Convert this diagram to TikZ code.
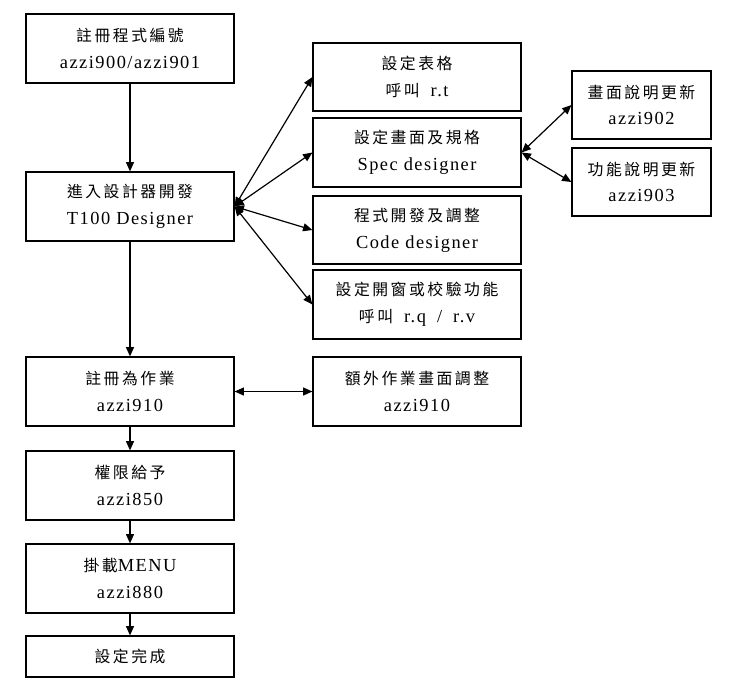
\documentclass[tikz,border=0pt]{standalone}
\usepackage{fontspec}
\setmainfont[LetterSpace=8]{Liberation Serif}
\newfontfamily\cjk[LetterSpace=16,Scale=0.86]{Noto Sans CJK TC}
\usetikzlibrary{arrows.meta}
\newcommand{\gap}{\hspace{0.6em}}

\begin{document}
\begin{tikzpicture}[x=0.75pt,y=-0.75pt,
    box/.style={draw,line width=0.9pt,align=center,inner sep=0pt,
      minimum width=156pt,minimum height=51.75pt,
      font=\fontsize{13.8}{20}\selectfont},
    sidebox/.style={box,minimum width=104.25pt,minimum height=51pt},
    arr/.style={line width=0.9pt,-{Triangle[length=7pt,width=6pt]}},
    dblarr/.style={line width=0.9pt,{Triangle[length=7pt,width=6pt]}-{Triangle[length=7pt,width=6pt]}}]
    \useasboundingbox (0,0) rectangle (731,694);

    % main column
    \node[box] (reg) at (130,48.5) {{\cjk 註冊程式編號}\\azzi900/azzi901};
    \node[box] (design) at (130,206.5) {{\cjk 進入設計器開發}\\T100 Designer};
    \node[box] (job) at (130,391.5) {{\cjk 註冊為作業}\\azzi910};
    \node[box] (perm) at (130,485.5) {{\cjk 權限給予}\\azzi850};
    \node[box] (menu) at (130,578.5) {{\cjk 掛載}MENU\\azzi880};
    \node[box,minimum height=30.75pt] (done) at (130,656.5) {{\cjk 設定完成}};

    % designer tasks
    \node[box,minimum height=51pt] (table) at (417,77) {{\cjk 設定表格}\\{\cjk 呼叫}\gap r.t};
    \node[box] (spec) at (417,152.5) {{\cjk 設定畫面及規格}\\Spec designer};
    \node[box,minimum height=51pt] (code) at (417,230) {{\cjk 程式開發及調整}\\Code designer};
    \node[box] (check) at (417,304.5) {{\cjk 設定開窗或校驗功能}\\{\cjk 呼叫}\gap r.q\gap/\gap r.v};
    \node[box] (extra) at (417,391.5) {{\cjk 額外作業畫面調整}\\azzi910};

    % help texts
    \node[sidebox] (screenhelp) at (641.5,105) {{\cjk 畫面說明更新}\\azzi902};
    \node[sidebox] (funchelp) at (641.5,182) {{\cjk 功能說明更新}\\azzi903};

    \draw[arr] (reg) -- (design);
    \draw[arr] (design) -- (job);
    \draw[arr] (job) -- (perm);
    \draw[arr] (perm) -- (menu);
    \draw[arr] (menu) -- (done);

    \foreach \t in {table,spec,code,check}
      \draw[dblarr] (design.east) -- (\t.west);
    \draw[dblarr] (spec.east) -- (screenhelp.west);
    \draw[dblarr] (spec.east) -- (funchelp.west);
    \draw[dblarr] (job) -- (extra);
\end{tikzpicture}
\end{document}
